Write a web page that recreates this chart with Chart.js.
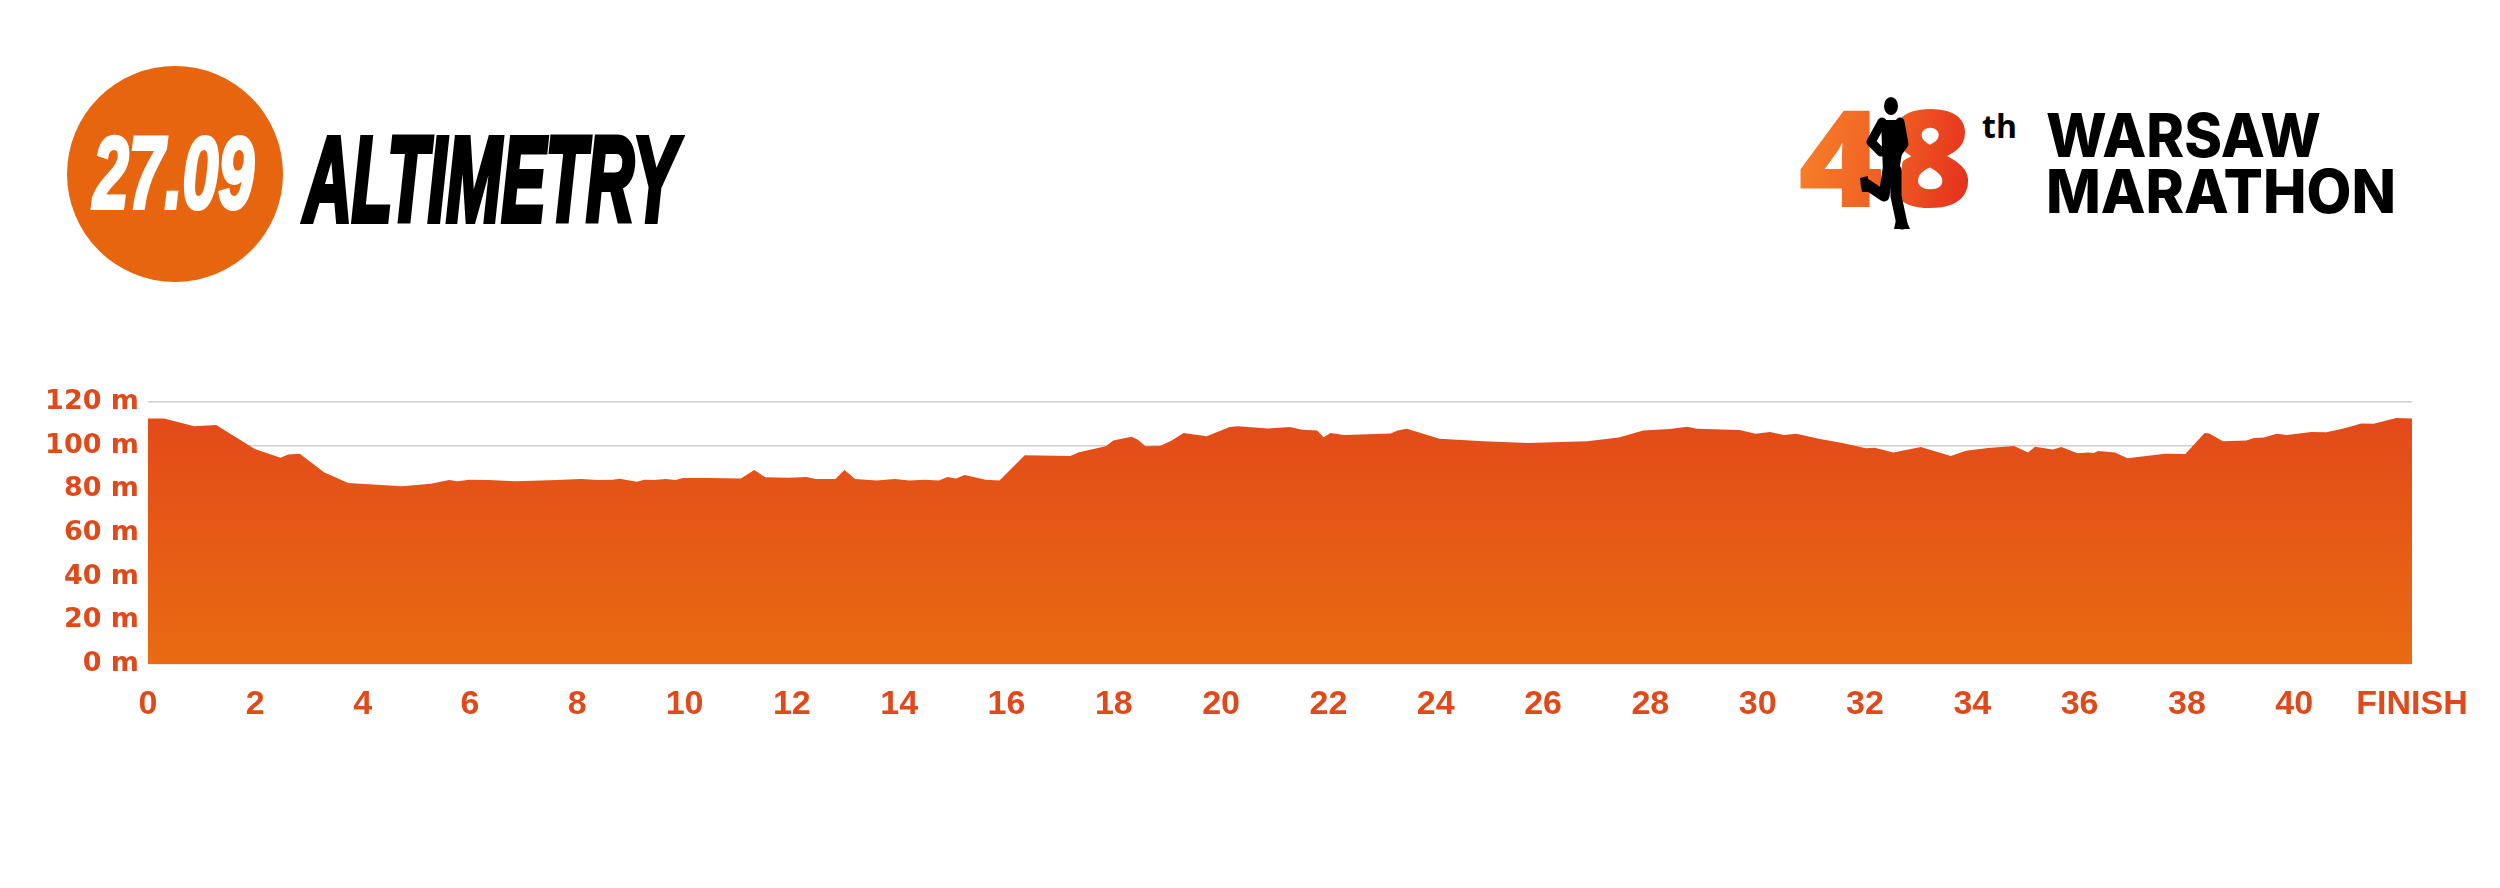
<!DOCTYPE html>
<html>
<head>
<meta charset="utf-8">
<title>Altimetry</title>
<script src="https://cdn.jsdelivr.net/npm/chart.js@4.4.0/dist/chart.umd.min.js"></script>
<style>
    html, body { margin: 0; padding: 0; background: #fff; }
    #page { position: relative; width: 2500px; height: 888px; overflow: hidden; background: #fff; }
    #altChart { position: absolute; left: 0; top: 0; }
    .badge { position: absolute; left: 67px; top: 66px; width: 216px; height: 216px; border-radius: 50%; background: #E8650F; }
    .fit { position: absolute; white-space: nowrap; line-height: 1; transform-origin: 0 0; }
    #date { left: 93px; top: 115px; color: #fff; font: italic bold 102px "Liberation Sans Narrow", "Liberation Sans", sans-serif; -webkit-text-stroke: 4px #fff; }
    #title { left: 304px; top: 110px; color: #000; font: italic bold 120px "Liberation Sans Narrow", "Liberation Sans", sans-serif; -webkit-text-stroke: 6px #000; }
    #num { left: 1798px; top: 64px; font: 800 134px "Open Sans", sans-serif; letter-spacing: 4px;
           background: linear-gradient(100deg, #F7862B 0%, #EF5A22 55%, #E2261C 100%); -webkit-background-clip: text; background-clip: text; color: transparent; }
    #th { left: 1982px; top: 104px; font: bold 32px "Open Sans", sans-serif; color: #000; }
    .logo { left: 2046px; color: #000; font: 800 60px Inter, sans-serif; }
    #runner { position: absolute; left: 1850px; top: 92px; }
</style>
</head>
<body>
<div id="page">
    <div class="badge"></div>
    <div id="date" class="fit" data-w="161">27.09</div>
    <div id="title" class="fit" data-w="373">ALTIMETRY</div>

    <div id="num" class="fit" data-w="179">48</div>
    <svg id="runner" width="80" height="145" viewBox="0 0 80 145">
        <g fill="#000" stroke="#fff" stroke-width="2">
            <ellipse cx="41" cy="14" rx="8" ry="10"/>
            <path d="M30 27 L52 27 L54 55 L50 80 L32 80 L31 55 Z"/>
        </g>
        <g fill="none" stroke="#000" stroke-linecap="round" stroke-linejoin="round">
            <path d="M32 30 L21 50 L31 60" stroke-width="9"/>
            <path d="M50 30 L54 52 L47 62" stroke-width="9"/>
            <path d="M38 78 L34 104 L16 92" stroke-width="11"/>
            <path d="M46 78 L46 104 L52 132" stroke-width="11"/>
        </g>
        <path d="M10 86 L18 84 L18 100 L12 100 Z" fill="#000"/>
        <path d="M46 128 L56 128 L60 137 L44 137 Z" fill="#000"/>
    </svg>
    <div id="th" class="fit">th</div>
    <div id="w1" class="fit logo" data-w="275" style="top:99px">WARSAW</div>
    <div id="w2" class="fit logo" data-w="350" style="top:155px">MARATHON</div>

    <canvas id="altChart" width="2500" height="888"></canvas>
</div>

<script>
// course profile (km, metres)
const distanceKm = [
    0, 0.30, 0.86, 1.27, 1.99, 2.47, 2.61, 2.83, 3.28, 3.73,
    4.73, 5.27, 5.61, 5.77, 5.99, 6.35, 6.85, 7.62, 8.07, 8.39,
    8.66, 8.79, 9.11, 9.25, 9.43, 9.65, 9.83, 9.97, 10.42, 11.05,
    11.30, 11.50, 11.95, 12.27, 12.45, 12.81, 12.98, 13.18, 13.58, 13.92,
    14.19, 14.47, 14.74, 14.90, 15.06, 15.22, 15.61, 15.87, 16.34, 17.19,
    17.35, 17.85, 17.99, 18.33, 18.45, 18.59, 18.86, 19.08, 19.30, 19.73,
    20.16, 20.32, 20.87, 21.28, 21.51, 21.79, 21.91, 22.04, 22.29, 23.16,
    23.29, 23.46, 24.07, 24.89, 25.72, 26.82, 27.41, 27.87, 28.36, 28.69,
    28.87, 29.66, 29.96, 30.23, 30.49, 30.72, 31.14, 31.60, 32.02, 32.18,
    32.53, 33.04, 33.60, 33.88, 34.29, 34.78, 35.04, 35.17, 35.50, 35.66,
    35.96, 36.15, 36.26, 36.35, 36.66, 36.89, 37.59, 37.97, 38.33, 38.42,
    38.67, 39.11, 39.25, 39.44, 39.67, 39.86, 40.32, 40.60, 40.92, 41.25,
    41.48, 41.90, 42.195
];
const elevationM = [
    112.4, 112.5, 108.9, 109.5, 98.5, 94.5, 96.0, 96.3, 87.8, 82.9,
    81.4, 82.6, 84.3, 83.7, 84.4, 84.3, 83.7, 84.3, 84.7, 84.3,
    84.4, 84.9, 83.5, 84.4, 84.3, 84.7, 84.3, 85.2, 85.2, 85.0,
    88.9, 85.5, 85.3, 85.6, 84.7, 84.7, 88.9, 84.7, 84.1, 84.7,
    84.0, 84.4, 84.1, 85.6, 85.0, 86.6, 84.4, 84.1, 95.6, 95.3,
    97.0, 99.7, 102.4, 104.1, 102.7, 99.7, 99.8, 102.4, 105.8, 104.3,
    108.5, 108.9, 107.9, 108.5, 107.3, 106.9, 103.8, 105.8, 104.9, 105.6,
    106.9, 107.8, 103.2, 102.0, 101.2, 102.0, 103.7, 107.0, 107.6, 108.7,
    107.8, 107.2, 105.5, 106.3, 104.9, 105.5, 103.2, 101.1, 98.8, 99.1,
    96.9, 99.4, 95.3, 97.7, 98.9, 99.8, 96.9, 99.5, 98.2, 99.4,
    96.5, 96.9, 96.6, 97.6, 96.9, 94.2, 96.3, 96.2, 105.8, 105.6,
    102.0, 102.4, 103.5, 103.7, 105.5, 104.9, 106.3, 106.1, 107.9, 110.2,
    110.0, 112.7, 112.5
];

const xTickKm = [0, 2, 4, 6, 8, 10, 12, 14, 16, 18, 20, 22, 24, 26, 28, 30, 32, 34, 36, 38, 40, 42.195];
const xTickLabels = ['0', '2', '4', '6', '8', '10', '12', '14', '16', '18', '20', '22', '24', '26', '28', '30', '32', '34', '36', '38', '40', 'FINISH'];
const yTickValues = [0, 20, 40, 60, 80, 100, 120];

const labelColor = '#E04A1A';

// squeeze the poster headings into their boxes
function fitHeadings() {
    document.querySelectorAll('.fit[data-w]').forEach(el => {
        const target = parseFloat(el.dataset.w);
        const w = el.getBoundingClientRect().width;
        el.style.transform = 'scaleX(' + (target / w) + ')';
    });
}

function profileFill(context) {
    const area = context.chart.chartArea;
    if (!area) return '#E4561A';
    const g = context.chart.ctx.createLinearGradient(0, area.top, 0, area.bottom);
    g.addColorStop(0, '#E2481A');
    g.addColorStop(1, '#E96B12');
    return g;
}

function initializeAltimetryChart() {
    const ctx = document.getElementById('altChart').getContext('2d');
    new Chart(ctx, {
        type: 'line',
        data: {
            datasets: [{
                data: distanceKm.map((km, i) => ({ x: km, y: elevationM[i] })),
                fill: 'origin',
                backgroundColor: profileFill,
                borderWidth: 0,
                pointRadius: 0,
                tension: 0
            }]
        },
        options: {
            responsive: false,
            animation: false,
            layout: {
                padding: { left: 0, right: 88, top: 402, bottom: 0 }
            },
            plugins: {
                legend: { display: false },
                tooltip: { enabled: false }
            },
            scales: {
                x: {
                    type: 'linear',
                    min: 0,
                    max: 42.195,
                    afterBuildTicks: scale => {
                        scale.ticks = xTickKm.map(v => ({ value: v }));
                    },
                    afterFit: scale => { scale.height = 224; },
                    grid: { display: false, drawTicks: false },
                    border: { display: false },
                    ticks: {
                        autoSkip: false,
                        maxRotation: 0,
                        padding: 20,
                        color: labelColor,
                        font: { family: '"Liberation Sans Narrow", "Liberation Sans", sans-serif', size: 34, weight: 'bold' },
                        callback: (value, index) => xTickLabels[index]
                    }
                },
                y: {
                    min: 0,
                    max: 120,
                    afterBuildTicks: scale => {
                        scale.ticks = yTickValues.map(v => ({ value: v }));
                    },
                    afterFit: scale => { scale.width = 148; },
                    grid: { color: '#cfcfcf', lineWidth: 1.5, drawTicks: false },
                    border: { display: false },
                    ticks: {
                        padding: 9,
                        color: labelColor,
                        font: { family: '"DejaVu Sans", sans-serif', size: 27, weight: 'bold' },
                        callback: value => value + ' m'
                    }
                }
            }
        }
    });
}

fitHeadings();
initializeAltimetryChart();
</script>
</body>
</html>
